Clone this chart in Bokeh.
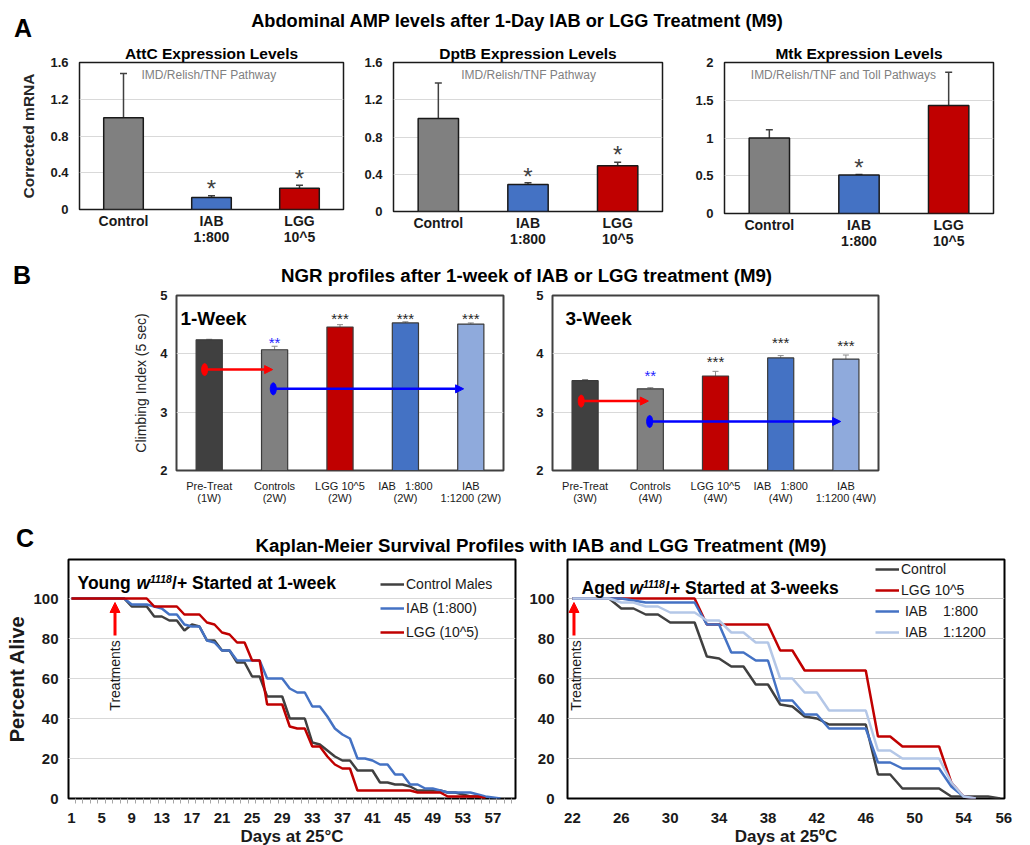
import math
from bokeh.plotting import figure
from bokeh.models import (ColumnDataSource, FactorRange, Range1d, FixedTicker, Whisker, TeeHead,
                          Label, Arrow, NormalHead, Legend, LegendItem, Title, Div)
from bokeh.layouts import column, row
from bokeh.core.properties import value
from bokeh.embed import file_html
from bokeh.resources import INLINE

FONT = "Liberation Sans"
INK = "#1a1a1a"

# ---------------- Panel A data ----------------
a_cats = ["Control", "IAB\n1:800", "LGG\n10^5"]
a_colors = ["#808080", "#4472c4", "#c00000"]
attc_vals = [1.00, 0.13, 0.23]
attc_err = [1.48, 0.15, 0.265]
attc_stars = ["", "*", "*"]
attc_star_y = [0.0, 0.286, 0.389]
dptb_vals = [1.00, 0.29, 0.49]
dptb_err = [1.38, 0.31, 0.53]
dptb_stars = ["", "*", "*"]
dptb_star_y = [0.0, 0.433, 0.666]
mtk_vals = [1.00, 0.51, 1.43]
mtk_err = [1.11, 0.515, 1.87]
mtk_stars = ["", "*", ""]
mtk_star_y = [0.0, 0.68, 0.0]
amp_ticks = [0, 0.4, 0.8, 1.2, 1.6]
amp_tick_labels = ["0", "0.4", "0.8", "1.2", "1.6"]
mtk_ticks = [0, 0.5, 1, 1.5, 2]
mtk_tick_labels = ["0", "0.5", "1", "1.5", "2"]

# ---------------- Panel B data ----------------
b1_cats = ["Pre-Treat\n(1W)", "Controls\n(2W)", "LGG 10^5\n(2W)",
           "IAB\u00a0\u00a0\u00a01:800\n(2W)", "IAB\n1:1200 (2W)"]
b3_cats = ["Pre-Treat\n(3W)", "Controls\n(4W)", "LGG 10^5\n(4W)",
           "IAB\u00a0\u00a0\u00a01:800\n(4W)", "IAB\n1:1200 (4W)"]
b_colors = ["#404040", "#808080", "#c00000", "#4472c4", "#8faadc"]
w1_vals = [4.24, 4.07, 4.46, 4.53, 4.51]
w1_err = [4.25, 4.13, 4.50, 4.55, 4.53]
w1_stars = ["", "**", "***", "***", "***"]
w1_star_y = [0.0, 4.27, 4.67, 4.67, 4.67]
w3_vals = [3.54, 3.40, 3.62, 3.93, 3.91]
w3_err = [3.56, 3.42, 3.70, 3.97, 3.98]
w3_stars = ["", "**", "***", "***", "***"]
w3_star_y = [0.0, 3.70, 3.94, 4.26, 4.22]
star_colors = ["#262626", "#1f1fff", "#262626", "#262626", "#262626"]
ngr_ticks = [2, 3, 4, 5]

# ---------------- Panel C data ----------------
young_control = [100, 100, 100, 100, 100, 100, 100, 100, 96, 96, 96, 91, 91, 89, 89, 84, 87, 86, 79, 79,
                 74, 74, 68, 68, 61, 61, 51, 51, 51, 40, 40, 40, 28, 27, 24, 21, 19, 19, 14, 14,
                 14, 8, 8, 7, 7, 6, 4, 4, 4, 4, 3, 3, 2, 1, 1, 0]
young_iab = [100, 100, 100, 100, 100, 100, 100, 100, 97, 97, 97, 96, 95, 92, 92, 87, 86, 86, 79, 78,
             74, 74, 69, 69, 69, 69, 60, 60, 60, 55, 53, 53, 46, 46, 41, 35, 32, 30, 20, 20,
             19, 17, 17, 12, 12, 7, 7, 5, 5, 4, 3, 3, 3, 3, 2, 1, 0.5, 0]
young_lgg = [100, 100, 100, 100, 100, 100, 100, 100, 100, 100, 100, 96, 96, 96, 96, 92, 92, 92, 88, 87,
             83, 82, 78, 78, 69, 69, 47, 47, 47, 36, 35, 35, 26, 26, 21, 17, 15, 15, 4, 4,
             4, 4, 4, 4, 4, 4, 3, 3, 3, 3, 1, 1, 1, 1, 1, 0]
young_first_day = 1
aged_control = [100, 100, 100, 100, 95, 95, 92, 92, 88, 88, 88, 71, 70, 66, 66, 57, 57, 47, 46, 41,
                40, 37, 37, 37, 37, 12, 12, 5, 5, 5, 5, 1, 1, 1, 1, 0]
aged_lgg = [100, 100, 100, 100, 100, 100, 100, 100, 100, 100, 100, 87, 87, 87, 87, 87, 87, 74, 74, 64,
            64, 64, 64, 64, 64, 31, 31, 26, 26, 26, 26, 8, 1, 0]
aged_iab800 = [100, 100, 100, 100, 100, 99, 98, 98, 98, 98, 98, 87, 87, 73, 73, 69, 69, 49, 49, 42,
               42, 35, 35, 35, 35, 18, 18, 15, 15, 15, 15, 6, 1, 0]
aged_iab1200 = [100, 100, 100, 100, 98, 98, 96, 96, 93, 93, 93, 89, 89, 83, 83, 78, 78, 60, 60, 53,
                53, 44, 44, 44, 44, 24, 24, 20, 20, 20, 20, 8, 1, 0]
aged_first_day = 22
pct_ticks = [0, 20, 40, 60, 80, 100]
young_ticks = [1, 5, 9, 13, 17, 21, 25, 29, 33, 37, 41, 45, 49, 53, 57]
young_tick_labels = [str(t) for t in young_ticks]
aged_ticks = [22, 26, 30, 34, 38, 42, 46, 50, 54, 57.3]
aged_tick_labels = ["22", "26", "30", "34", "38", "42", "46", "50", "54", "56"]


def style(p, outline_color, outline_width, grid_color):
    p.background_fill_color = "white"
    p.border_fill_color = "white"
    p.xgrid.grid_line_color = None
    p.ygrid.grid_line_color = grid_color
    p.ygrid.grid_line_width = 1
    p.outline_line_color = outline_color
    p.outline_line_width = outline_width
    p.outline_line_alpha = 1
    for ax in list(p.xaxis) + list(p.yaxis):
        ax.axis_line_color = None
        ax.major_tick_line_color = None
        ax.minor_tick_line_color = None
        ax.major_tick_in = 0
        ax.major_tick_out = 0
        ax.minor_tick_in = 0
        ax.minor_tick_out = 0
        ax.major_label_text_font = FONT
        ax.axis_label_text_font = FONT
        ax.major_label_text_color = INK
        ax.axis_label_text_color = INK


def lab(x, y, text, size, style_="bold", align="left", color="#000000", **kw):
    return Label(x=x, y=y, text=text, text_font=FONT, text_font_size=f"{size}px",
                 text_font_style=style_, text_color=color, text_align=align,
                 text_baseline="alphabetic", **kw)


def amp_fig(vals, errs, stars, star_y, y_end, ticks, tick_labels, subtitle, sub_x, sub_y,
            fw, fh, bl, br, bb, title, title_offset, ylabel=None):
    ttl = Title(text=title, align="center", offset=title_offset, standoff=2,
                text_font=FONT, text_font_size="15.5px", text_font_style="bold",
                text_color="#000000")
    p = figure(x_range=FactorRange(factors=a_cats), y_range=Range1d(0, y_end),
               frame_width=fw, frame_height=fh, min_border_left=bl, min_border_right=br,
               min_border_top=22, min_border_bottom=bb, toolbar_location=None,
               output_backend="svg", title=ttl)
    style(p, INK, 1.5, "#d9d9d9")
    src = ColumnDataSource(dict(cat=a_cats, val=vals, err=errs, color=a_colors,
                                star=stars, star_y=star_y))
    p.vbar(x="cat", top="val", width=0.45, fill_color="color", line_color=INK,
           line_width=1.5, source=src)
    p.add_layout(Whisker(source=src, base="cat", lower="val", upper="err",
                         line_color="#404040", line_width=1.5,
                         upper_head=TeeHead(size=7, line_color="#404040", line_width=1.5),
                         lower_head=None))
    p.text(x="cat", y="star_y", text="star", source=src, text_font=value(FONT),
           text_font_size="24px", text_color="#404040", text_align="center",
           text_baseline="middle", y_offset=5)
    p.add_layout(Label(x=sub_x, y=sub_y, text=subtitle, text_font=FONT,
                       text_font_size="12px", text_color="#7f7f7f",
                       text_align="center", text_baseline="middle"))
    p.yaxis.ticker = FixedTicker(ticks=ticks)
    p.yaxis.major_label_overrides = dict(zip(ticks, tick_labels))
    p.yaxis.major_label_text_font_size = "13px"
    p.yaxis.major_label_text_font_style = "bold"
    p.yaxis.major_label_standoff = 11
    p.xaxis.major_label_text_font_size = "14px"
    p.xaxis.major_label_text_font_style = "bold"
    p.xaxis.major_label_text_line_height = 1.0
    p.xaxis.major_label_standoff = 3
    if ylabel:
        p.yaxis.axis_label = ylabel
        p.yaxis.axis_label_text_font_size = "15.5px"
        p.yaxis.axis_label_text_font_style = "bold"
        p.yaxis.axis_label_text_color = "#262626"
        p.yaxis.axis_label_standoff = 10
    return p


def ngr_fig(cats, vals, errs, stars, star_y, tag, tag_x, arrows, fw, bl, br, ylabel=None):
    p = figure(x_range=FactorRange(factors=cats), y_range=Range1d(2, 5),
               frame_width=fw, frame_height=175, min_border_left=bl, min_border_right=br,
               min_border_top=8, min_border_bottom=35, toolbar_location=None,
               output_backend="svg", title=None)
    style(p, "#404040", 2, "#d9d9d9")
    src = ColumnDataSource(dict(cat=cats, val=vals, err=errs, color=b_colors,
                                star=stars, star_y=star_y, scol=star_colors))
    p.vbar(x="cat", top="val", bottom=2, width=0.4, fill_color="color", line_color="#3a3a3a",
           line_width=1.2, source=src)
    p.add_layout(Whisker(source=src, base="cat", lower="val", upper="err",
                         line_color="#8c8c8c", line_width=1,
                         upper_head=TeeHead(size=6, line_color="#8c8c8c", line_width=1),
                         lower_head=None))
    p.text(x="cat", y="star_y", text="star", source=src, text_font=value(FONT),
           text_font_size="15px", text_color="scol", text_align="center",
           text_baseline="middle", y_offset=4)
    p.add_layout(lab(tag_x, 4.613, tag, 19))
    for (x0, x1, yy, col) in arrows:
        p.add_layout(Arrow(end=NormalHead(size=8, fill_color=col, line_color=col, line_width=1),
                           x_start=x0, y_start=yy, x_end=x1, y_end=yy,
                           line_color=col, line_width=2.5))
        p.ellipse(x=[x0], y=[yy], width=6, height=12, width_units="screen",
                  height_units="screen", fill_color=col, line_color=col)
    p.yaxis.ticker = FixedTicker(ticks=ngr_ticks)
    p.yaxis.major_label_text_font_size = "13px"
    p.yaxis.major_label_text_font_style = "bold"
    p.yaxis.major_label_standoff = 9
    p.xaxis.major_label_text_font_size = "11px"
    p.xaxis.major_label_text_font_style = "normal"
    p.xaxis.major_label_text_line_height = 1.05
    p.xaxis.major_label_standoff = 9
    if ylabel:
        p.yaxis.axis_label = ylabel
        p.yaxis.axis_label_text_font_size = "14px"
        p.yaxis.axis_label_text_font_style = "normal"
        p.yaxis.axis_label_text_color = "#262626"
        p.yaxis.axis_label_standoff = 8
    return p


def km_fig(x_range, ticks, tick_labels, minor, fw, bl, br, grid_color, xlabel, ylabel=None,
           ystandoff=13):
    p = figure(x_range=x_range, y_range=Range1d(0, 119.5), frame_width=fw, frame_height=239,
               min_border_left=bl, min_border_right=br, min_border_top=2, min_border_bottom=48,
               toolbar_location=None, output_backend="svg", title=None)
    style(p, "#000000", 2, grid_color)
    p.yaxis.ticker = FixedTicker(ticks=pct_ticks)
    p.yaxis.major_label_text_font_size = "15px"
    p.yaxis.major_label_text_font_style = "bold"
    p.yaxis.major_label_standoff = ystandoff
    p.xaxis.ticker = FixedTicker(ticks=ticks, minor_ticks=minor)
    p.xaxis.major_label_overrides = dict(zip(ticks, tick_labels))
    p.xaxis.major_label_text_font_size = "15px"
    p.xaxis.major_label_text_font_style = "bold"
    p.xaxis.major_tick_out = 5
    p.xaxis.major_label_standoff = 9
    if minor:
        p.xaxis.minor_tick_out = 5
        p.xaxis.minor_tick_line_color = "#a6a6a6"
    p.xaxis.axis_label = xlabel
    p.xaxis.axis_label_text_font_size = "17px"
    p.xaxis.axis_label_text_font_style = "bold"
    p.xaxis.axis_label_standoff = 1
    if ylabel:
        p.yaxis.axis_label = ylabel
        p.yaxis.axis_label_text_font_size = "20px"
        p.yaxis.axis_label_text_font_style = "bold"
        p.yaxis.axis_label_standoff = 2
    return p


def treat_marks(p, x_arrow, x_text):
    p.add_layout(Arrow(end=NormalHead(size=10, fill_color="#ff0000", line_color="#ff0000",
                                      line_width=1),
                       x_start=x_arrow, y_start=81.5, x_end=x_arrow, y_end=98,
                       line_color="#ff0000", line_width=3))
    p.add_layout(Label(x=x_text, y=61.5, text="Treatments", angle=math.pi / 2,
                       text_font=FONT, text_font_size="14px", text_color=INK,
                       text_align="center", text_baseline="middle"))


def strain_title(p, x, y, first, offsets, rest):
    p.add_layout(lab(x, y, first, 17.5))
    p.add_layout(lab(x, y, "w", 17.5, "bold italic", x_offset=offsets[0]))
    p.add_layout(lab(x, y + 2, "1118", 10.5, "bold italic", x_offset=offsets[1]))
    p.add_layout(lab(x, y, rest, 17.5, x_offset=offsets[2]))


# ---------------- header strips (panel letters and panel titles) ----------------
def block(left, top, size, html, width=None):
    w = f"width:{width}px;text-align:center;" if width else ""
    return (f'<div style="position:absolute;left:{left}px;top:{top}px;{w}'
            f'font-size:{size}px;line-height:{size}px;font-weight:bold;'
            f'white-space:nowrap;">{html}</div>')


def header(h, blocks):
    inner = "".join(blocks)
    return Div(text=(f'<div style="position:relative;width:1020px;height:{h}px;'
                     f"font-family:'Liberation Sans',Arial,sans-serif;color:#000;\">{inner}</div>"),
               width=1020, height=h, margin=0)


hA = header(40, [
    block(14, 37.5 - 0.8465 * 25, 25, "A"),
    block(17, 27.7 - 0.8465 * 18.2, 18.2,
          "Abdominal AMP levels after 1-Day IAB or LGG Treatment (M9)", 1000),
])
hB = header(35, [
    block(13, 32 - 0.8465 * 25, 25, "B"),
    block(26.5, 31 - 0.8465 * 18.7, 18.7,
          "NGR profiles after 1-week of IAB or LGG treatment (M9)", 1000),
])
hC = header(50, [
    block(16, 40 - 0.8465 * 25, 25, "C"),
    block(41, 46 - 0.8465 * 18.7, 18.7,
          "Kaplan-Meier Survival Profiles with IAB and LGG Treatment (M9)", 1000),
])

# ---------------- Panel A ----------------
a1 = amp_fig(attc_vals, attc_err, attc_stars, attc_star_y, 1.6, amp_ticks, amp_tick_labels,
             "IMD/Relish/TNF Pathway", 1.47, 1.469, 264, 147, 79, 7, 43,
             "AttC Expression Levels", -9.5, "Corrected mRNA")
a2 = amp_fig(dptb_vals, dptb_err, dptb_stars, dptb_star_y, 1.6, amp_ticks, amp_tick_labels,
             "IMD/Relish/TNF Pathway", 1.506, 1.471, 269, 149, 43, 8, 41,
             "DptB Expression Levels", -2.5)
a3 = amp_fig(mtk_vals, mtk_err, mtk_stars, mtk_star_y, 2.0, mtk_ticks, mtk_tick_labels,
             "IMD/Relish/TNF and Toll Pathways", 1.327, 1.841, 269, 151, 54, 17, 39,
             "Mtk Expression Levels", -3)

# ---------------- Panel B ----------------
RED, BLUE = "#ff0000", "#0000ff"
b1 = ngr_fig(b1_cats, w1_vals, w1_err, w1_stars, w1_star_y, "1-Week", 0.06,
             [(0.43, 1.47, 3.73, RED), (1.48, 4.39, 3.40, BLUE)], 327, 176, 30,
             "Climbing Index (5 sec)")
b2 = ngr_fig(b3_cats, w3_vals, w3_err, w3_stars, w3_star_y, "3-Week", 0.2,
             [(0.44, 1.47, 3.19, RED), (1.49, 4.42, 2.84, BLUE)], 326, 19, 22)

# ---------------- Panel C ----------------
c1 = km_fig(Range1d(0.6, 60.0), young_ticks, young_tick_labels,
            [d + 0.5 for d in range(0, 60)], 447, 68, 11, "#d9d9d9",
            "Days at 25\u00b0C", "Percent Alive", ystandoff=10)
young_series = [("Control Males", young_control, "#404040"),
                ("IAB (1:800)", young_iab, "#4472c4"),
                ("LGG (10^5)", young_lgg, "#c00000")]
items = []
for name, vals, col in young_series:
    days = list(range(young_first_day, young_first_day + len(vals)))
    r = c1.line(days, vals, line_color=col, line_width=2.5)
    items.append(LegendItem(label=name, renderers=[r]))
c1.add_layout(Legend(items=items, location=(312, 158), glyph_width=24, glyph_height=16,
                     label_height=16, label_standoff=2, spacing=8, padding=0, margin=0,
                     border_line_color=None, background_fill_alpha=0,
                     label_text_font=FONT, label_text_font_size="14px",
                     label_text_color=INK))
treat_marks(c1, 6.78, 6.78)
strain_title(c1, 1.8, 108, "Young", (59, 72.5, 94.5), "/+ Started at 1-week")

c2 = km_fig(Range1d(21.6, 57.35), aged_ticks, aged_tick_labels, [], 437, 39, 18,
            "#c0c0c0", "Days at 25\u00baC", None, ystandoff=13)
aged_series = [("Control", aged_control, "#404040"),
               ("LGG 10^5", aged_lgg, "#c00000"),
               ("\u00a0IAB\u00a0\u00a0\u00a0\u00a01:800", aged_iab800, "#4472c4"),
               ("\u00a0IAB\u00a0\u00a0\u00a0\u00a01:1200", aged_iab1200, "#b4c7e7")]
items = []
for name, vals, col in aged_series:
    days = list(range(aged_first_day, aged_first_day + len(vals)))
    r = c2.line(days, vals, line_color=col, line_width=2.5)
    items.append(LegendItem(label=name, renderers=[r]))
c2.add_layout(Legend(items=items, location=(308, 158), glyph_width=24, glyph_height=16,
                     label_height=16, label_standoff=2, spacing=5, padding=0, margin=0,
                     border_line_color=None, background_fill_alpha=0,
                     label_text_font=FONT, label_text_font_size="14px",
                     label_text_color=INK))
treat_marks(c2, 22.13, 22.28)
strain_title(c2, 22.75, 105.25, "Aged", (48, 61.5, 83.5), "/+ Started at 3-weeks")

layout = column(hA, row(a1, a2, a3), hB, row(b1, b2), hC, row(c1, c2))
open("out.html", "w").write(file_html(layout, INLINE))
